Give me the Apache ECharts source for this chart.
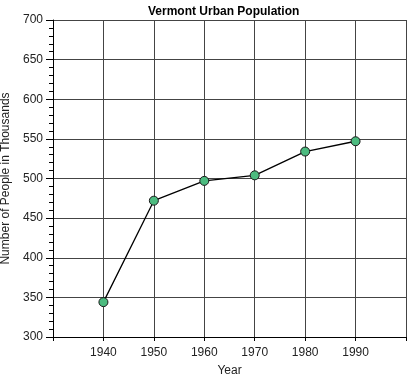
<!DOCTYPE html>
<html>
<head>
<meta charset="utf-8">
<script src="https://cdn.jsdelivr.net/npm/echarts@6/dist/echarts.min.js"></script>
<style>html,body{margin:0;padding:0;background:#fff}#c{width:408px;height:378px}</style>
</head>
<body>
<div id="c"></div>
<script>
const years = [1940, 1950, 1960, 1970, 1980, 1990];
const population = [344, 472, 497, 504, 534, 547];
const titleText = 'Vermont Urban Population';
const xName = 'Year';
const yName = 'Number of People in Thousands';

const chart = echarts.init(document.getElementById('c'), null, {renderer: 'canvas'});
const font = '"Liberation Sans", Arial, sans-serif';
chart.setOption({
  animation: false,
  backgroundColor: '#fff',
  title: {
    text: titleText, left: 143, top: 1,
    textStyle: {fontFamily: font, fontSize: 12, fontWeight: 'bold', color: '#000'}
  },
  grid: {left: 53, right: 2, top: 20, bottom: 41, containLabel: false, outerBoundsMode: 'none'},
  xAxis: {
    type: 'value', min: 1930, max: 2000, interval: 10,
    name: xName, nameLocation: 'middle', nameGap: 28,
    nameTextStyle: {fontFamily: font, fontSize: 12, color: '#222'},
    axisLine: {lineStyle: {color: '#000', width: 1}},
    axisTick: {show: true, length: 4, lineStyle: {color: '#000'}},
    axisLabel: {
      fontFamily: font, fontSize: 12, color: '#222', margin: 10,
      formatter: v => (v === 1930 || v === 2000) ? '' : String(v)
    },
    splitLine: {show: true, lineStyle: {color: '#444', width: 1}}
  },
  yAxis: {
    type: 'value', min: 300, max: 700, interval: 50,
    name: yName, nameLocation: 'middle', nameGap: 38,
    nameTextStyle: {fontFamily: font, fontSize: 12, color: '#222'},
    axisLine: {show: true, lineStyle: {color: '#000', width: 1}},
    axisTick: {show: true, length: 7, lineStyle: {color: '#000'}},
    minorTick: {show: true, splitNumber: 5, length: 4, lineStyle: {color: '#000'}},
    axisLabel: {fontFamily: font, fontSize: 12, color: '#222', margin: 10},
    splitLine: {show: true, lineStyle: {color: '#444', width: 1}}
  },
  series: [{
    type: 'line',
    data: years.map((y, i) => [y, population[i]]),
    symbol: 'circle', symbolSize: 9,
    lineStyle: {color: '#000', width: 1.3},
    itemStyle: {color: '#4cbb7f', borderColor: '#1a1a1a', borderWidth: 1},
    z: 5
  }]
});
</script>
</body>
</html>
